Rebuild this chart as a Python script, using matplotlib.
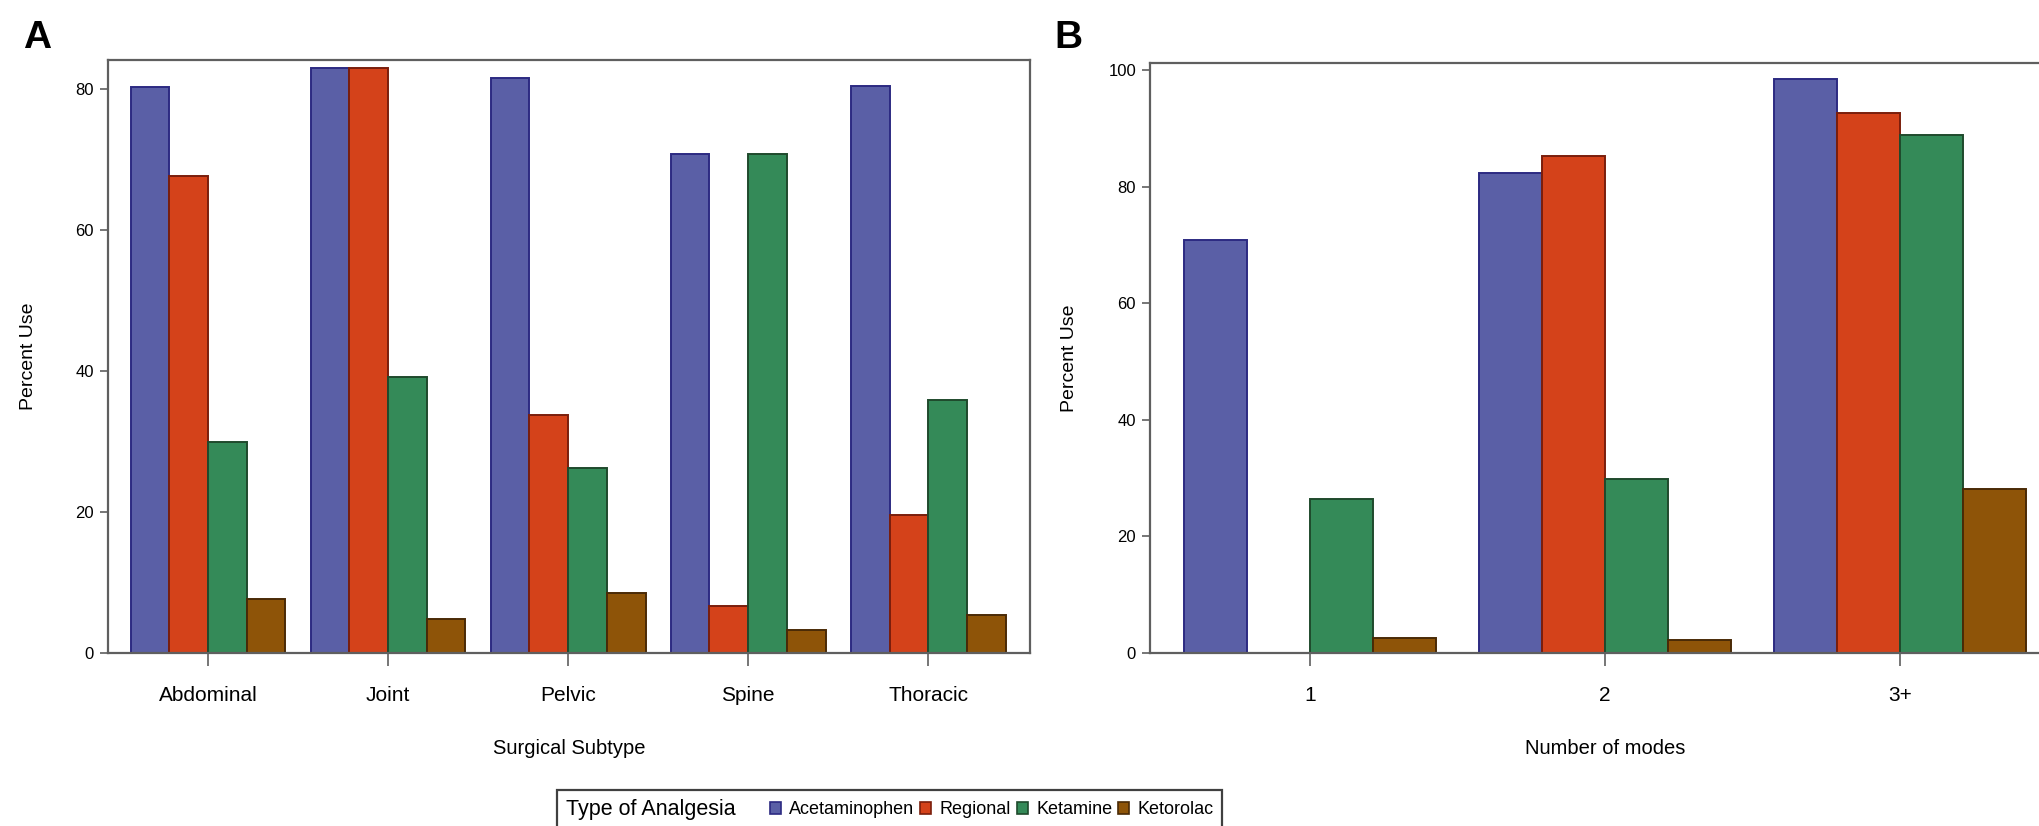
import matplotlib
matplotlib.use("Agg")
import matplotlib.pyplot as plt
from matplotlib import font_manager
from matplotlib.patches import Rectangle, Patch
import numpy as np

# ---------------- data ----------------
subtypes = ["Abdominal", "Joint", "Pelvic", "Spine", "Thoracic"]
modes = ["1", "2", "3+"]
series = ["Acetaminophen", "Regional", "Ketamine", "Ketorolac"]

a_acetaminophen = [80.2, 83.0, 81.6, 70.7, 80.4]
a_regional = [67.6, 82.9, 33.7, 6.6, 19.6]
a_ketamine = [29.9, 39.2, 26.2, 70.7, 35.9]
a_ketorolac = [7.6, 4.8, 8.5, 3.3, 5.4]

b_acetaminophen = [70.8, 82.4, 98.5]
b_regional = [0.0, 85.2, 92.7]
b_ketamine = [26.5, 29.9, 88.8]
b_ketorolac = [2.5, 2.3, 28.2]

face_colors = ["#5A5FA6", "#D4421A", "#348A58", "#8E5408"]
edge_colors = ["#2C2A82", "#7A1E0C", "#1F4A2C", "#4A2A06"]

# ---------------- fonts ----------------
def pick_font():
    for name in ["Liberation Sans Narrow", "Liberation Sans", "DejaVu Sans"]:
        try:
            font_manager.findfont(name, fallback_to_default=False)
            return name
        except Exception:
            pass
    return "DejaVu Sans"

FONT = pick_font()
plt.rcParams["font.family"] = [FONT, "DejaVu Sans"]

W, H = 2039, 826
fig = plt.figure(figsize=(W / 100, H / 100), dpi=100)
fig.patch.set_facecolor("white")


def px_axes(left, top, right, bottom):
    return fig.add_axes([left / W, 1 - bottom / H, (right - left) / W, (bottom - top) / H])


def style_axes(ax):
    for s in ax.spines.values():
        s.set_color("#5f5f5f")
        s.set_linewidth(1.6)
    ax.tick_params(axis="y", direction="out", length=6, width=1.2, color="#5f5f5f",
                   labelsize=12, pad=4)
    ax.tick_params(axis="x", direction="out", length=9, width=1.2, color="#5f5f5f",
                   labelsize=15, pad=15)


def draw_bars(ax, values_list, width):
    n = len(values_list[0])
    x = np.arange(n)
    for i, vals in enumerate(values_list):
        offset = (i - 1.5) * width
        ax.bar(x + offset, vals, width=width, color=face_colors[i],
               edgecolor=edge_colors[i], linewidth=1.4, zorder=2)
    return x


# ---------------- Panel A ----------------
axA = px_axes(108, 60, 1030, 653)
xA = draw_bars(axA, [a_acetaminophen, a_regional, a_ketamine, a_ketorolac], 0.215)
axA.set_xlim(-0.555, 4.565)
axA.set_ylim(0, 84.1)
axA.set_xticks(xA)
axA.set_xticklabels(subtypes)
axA.set_yticks([0, 20, 40, 60, 80])
axA.set_xlabel("Surgical Subtype", fontsize=14.5, labelpad=24)
axA.set_ylabel("Percent Use", fontsize=14, labelpad=28)
style_axes(axA)

# ---------------- Panel B ----------------
axB = px_axes(1150, 63, 2060, 653)
xB = draw_bars(axB, [b_acetaminophen, b_regional, b_ketamine, b_ketorolac], 0.214)
axB.set_xlim(-0.542, 2.542)
axB.set_ylim(0, 101.2)
axB.set_xticks(xB)
axB.set_xticklabels(modes)
axB.set_yticks([0, 20, 40, 60, 80, 100])
axB.set_xlabel("Number of modes", fontsize=14.5, labelpad=24)
axB.set_ylabel("Percent Use", fontsize=14, labelpad=22)
style_axes(axB)

# panel letters
fig.text(37 / W, 1 - 38 / H, "A", fontsize=28, fontweight="bold", ha="center", va="center",
         family=["Liberation Sans", "DejaVu Sans"])
fig.text(1068 / W, 1 - 38 / H, "B", fontsize=28, fontweight="bold", ha="center", va="center",
         family=["Liberation Sans", "DejaVu Sans"])

# ---------------- Legend ----------------
box = Rectangle((557 / W, 1 - 836 / H), (1222 - 557) / W, (836 - 790) / H,
                transform=fig.transFigure, facecolor="white", edgecolor="#404040",
                linewidth=1.6, zorder=5)
fig.patches.append(box)
fig.text(566 / W, 1 - 810 / H, "Type of Analgesia", fontsize=15.5, ha="left", va="center",
         zorder=6)
handles = [Patch(facecolor=face_colors[i], edgecolor=edge_colors[i], linewidth=1.2)
           for i in range(4)]
leg = fig.legend(handles, series, loc="center left",
                 bbox_to_anchor=(770 / W, 1 - 810 / H), ncol=4, frameon=False,
                 fontsize=13, handlelength=0.6, handleheight=0.6, handletextpad=0.45,
                 columnspacing=0.35, borderpad=0, borderaxespad=0)
leg.set_zorder(7)

fig.savefig("out.png", dpi=100)
